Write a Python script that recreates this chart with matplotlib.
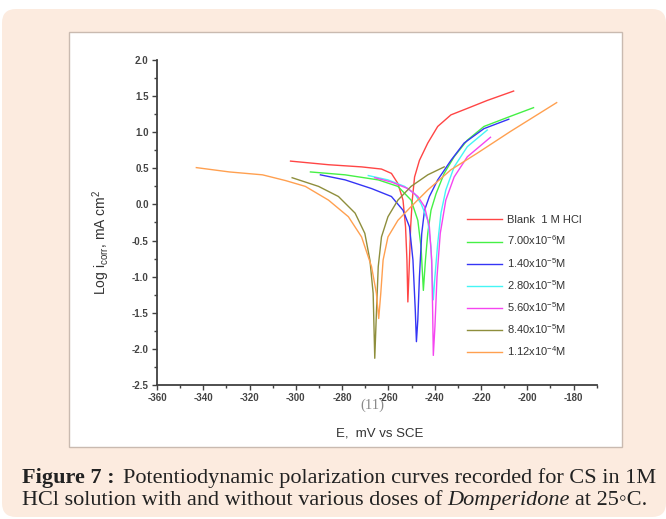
import matplotlib.pyplot as plt
from matplotlib.patches import FancyBboxPatch, Rectangle
from matplotlib.ticker import MultipleLocator
from matplotlib.transforms import IdentityTransform

plt.rcParams["font.family"] = ["Liberation Sans", "DejaVu Sans"]
plt.rcParams["mathtext.fontset"] = "custom"
plt.rcParams["mathtext.rm"] = "Liberation Sans"
plt.rcParams["mathtext.it"] = "Liberation Sans:italic"
plt.rcParams["axes.unicode_minus"] = False

# potential (mV vs SCE) and log i (mA cm-2)
E_BLANK = [-302.3, -285.9, -271.6, -263.0, -258.7, -255.9, -253.7, -252.6, -252.0, -251.6,
           -251.0, -250.4, -249.7, -248.7, -246.6, -243.0, -238.7, -233.0, -225.9, -217.3, -205.9]
LOG_BLANK = [0.60, 0.55, 0.52, 0.49, 0.43, 0.29, 0.06, -0.31, -0.77, -1.35,
             -0.86, -0.31, 0.06, 0.38, 0.61, 0.85, 1.08, 1.24, 1.33, 1.44, 1.57]

E_C1 = [-293.7, -278.7, -264.4, -255.9, -250.2, -247.3, -245.9, -244.9, -244.0, -243.0,
        -241.6, -239.4, -235.9, -231.6, -225.9, -218.7, -207.3, -197.3]
LOG_C1 = [0.45, 0.41, 0.34, 0.25, 0.06, -0.22, -0.59, -1.19, -0.77, -0.40,
          -0.08, 0.15, 0.43, 0.66, 0.89, 1.08, 1.22, 1.34]

E_C2 = [-289.4, -278.7, -267.3, -258.7, -253.7, -250.9, -249.4, -248.4, -247.9, -247.3,
        -246.6, -245.6, -244.4, -242.3, -238.7, -233.0, -227.3, -218.7, -208.0]
LOG_C2 = [0.41, 0.34, 0.22, 0.11, -0.08, -0.31, -0.77, -1.46, -1.90, -1.60,
          -1.00, -0.40, -0.08, 0.11, 0.34, 0.61, 0.85, 1.05, 1.18]

E_C3 = [-268.7, -260.2, -253.0, -248.7, -245.9, -243.0, -241.6, -240.9, -240.6, -239.9,
        -238.7, -237.3, -235.2, -231.6, -225.9, -217.3]
LOG_C3 = [0.40, 0.34, 0.25, 0.15, 0.01, -0.22, -0.59, -1.14, -1.32, -1.00,
          -0.54, -0.12, 0.20, 0.52, 0.80, 1.03]

E_C4 = [-265.9, -258.7, -251.6, -247.3, -244.4, -242.3, -241.3, -240.9, -240.6, -239.9,
        -239.0, -237.6, -235.2, -231.6, -225.9, -215.9]
LOG_C4 = [0.37, 0.31, 0.22, 0.11, -0.03, -0.31, -0.77, -1.46, -2.09, -1.69,
          -1.00, -0.40, 0.06, 0.38, 0.66, 0.93]

E_C5 = [-301.6, -290.2, -281.6, -274.4, -270.2, -268.0, -266.6, -265.9, -265.2, -264.4,
        -263.0, -260.2, -255.9, -250.2, -243.0, -235.9]
LOG_C5 = [0.37, 0.25, 0.11, -0.12, -0.40, -0.77, -1.23, -2.13, -1.51, -0.86,
          -0.45, -0.17, 0.06, 0.25, 0.41, 0.52]

E_C6 = [-343.0, -328.7, -314.4, -304.4, -295.9, -285.9, -277.3, -271.6, -267.3, -265.2,
        -264.2, -263.3, -262.3, -260.2, -255.9, -250.2, -243.0, -233.0, -221.6, -207.3, -187.3]
LOG_C6 = [0.51, 0.45, 0.41, 0.33, 0.25, 0.06, -0.17, -0.45, -0.86, -1.23,
          -1.58, -1.23, -0.77, -0.45, -0.22, -0.03, 0.20, 0.48, 0.71, 1.01, 1.41]

LABELS = ["Blank  1 M HCl", r"7.00x10$^{-6}$M", r"1.40x10$^{-5}$M", r"2.80x10$^{-5}$M",
          r"5.60x10$^{-5}$M", r"8.40x10$^{-5}$M", r"1.12x10$^{-4}$M"]
COLORS = ["#FF4545", "#45F045", "#3535F5", "#45F5F5", "#F545F0", "#8E8E3C", "#FFA050"]

W, H = 666, 519
fig = plt.figure(figsize=(W / 100, H / 100), dpi=100, facecolor="white")

# peach page panel and white figure frame (pixel coords)
fig.add_artist(FancyBboxPatch((2, 2), W - 2, H - 11, boxstyle="round,pad=0,rounding_size=14",
                              transform=IdentityTransform(), facecolor="#FCEBDF",
                              edgecolor="none", zorder=0))
fig.add_artist(Rectangle((69, H - 447), 553, 415.5, transform=IdentityTransform(),
                         facecolor="white", edgecolor="#C9BAB0", linewidth=1, zorder=0.5))

ax = fig.add_axes([157 / W, 1 - 385 / H, (596.7 - 157) / W, (385 - 60) / H])
ax.set_zorder(2)
ax.patch.set_alpha(0)

curves = [(E_BLANK, LOG_BLANK), (E_C1, LOG_C1), (E_C2, LOG_C2), (E_C3, LOG_C3),
          (E_C4, LOG_C4), (E_C5, LOG_C5), (E_C6, LOG_C6)]
for (e, logi), label, color in zip(curves, LABELS, COLORS):
    ax.plot(e, logi, color=color, linewidth=1.0, label=label)

ax.set_xlim(-360, -170)
ax.set_ylim(-2.5, 2.0)
ax.xaxis.set_minor_locator(MultipleLocator(10))
ax.yaxis.set_major_locator(MultipleLocator(0.5))
ax.yaxis.set_minor_locator(MultipleLocator(0.25))
ax.set_xticks(range(-360, -179, 20))
ax.tick_params(which="major", direction="out", length=3.5, width=1, color="#404040",
               labelsize=7, labelcolor="#444444", pad=2.5)
ax.tick_params(which="minor", direction="out", length=2, width=1, color="#404040")
for lbl in ax.get_xticklabels() + ax.get_yticklabels():
    lbl.set_fontweight("bold")
ax.yaxis.set_major_formatter(plt.FuncFormatter(lambda v, p: f"{v:.1f}"))
for side in ["top", "right"]:
    ax.spines[side].set_visible(False)
for side in ["left", "bottom"]:
    ax.spines[side].set_color("#404040")
    ax.spines[side].set_linewidth(1.3)

ax.set_xlabel("E,  mV vs SCE", fontsize=9.5, color="#333333")
ax.xaxis.set_label_coords(0.507, -0.13)
ax.set_ylabel(r"Log i$_{\rm corr}$, mA cm$^{2}$", fontsize=10, color="#333333")
ax.yaxis.set_label_coords(-0.102, 0.44)

ax.legend(loc="upper left", bbox_to_anchor=(0.704, 0.522), frameon=False, fontsize=8,
          handlelength=3.15, handletextpad=0.45, labelspacing=0.75, borderpad=0,
          borderaxespad=0, labelcolor="#333333")

fig.text(372 / W, 1 - 405 / H, "(11)", fontsize=10.5, color="#8a8a8a",
         family=["Liberation Serif", "DejaVu Serif"], ha="center", va="center", zorder=3)

# caption with mixed styles
fig.canvas.draw()
renderer = fig.canvas.get_renderer()
serif = ["Liberation Serif", "DejaVu Serif"]


def caption_line(parts, x, y):
    for text, style, gap in parts:
        t = fig.text(x / W, y / H, text, fontsize=16, color="#222222", family=serif,
                     va="baseline", **style)
        x += t.get_window_extent(renderer=renderer).width + gap


caption_line([("Figure 7 :", {"weight": "bold"}, 8),
              ("Potentiodynamic polarization curves recorded for CS in 1M", {}, 0)], 22, 36)
caption_line([("HCl solution with and without various doses of", {}, 5),
              ("Domperidone", {"style": "italic"}, 5),
              ("at 25\u25e6C.", {}, 0)], 22, 14)

fig.savefig("out.png", dpi=100, facecolor="white")
